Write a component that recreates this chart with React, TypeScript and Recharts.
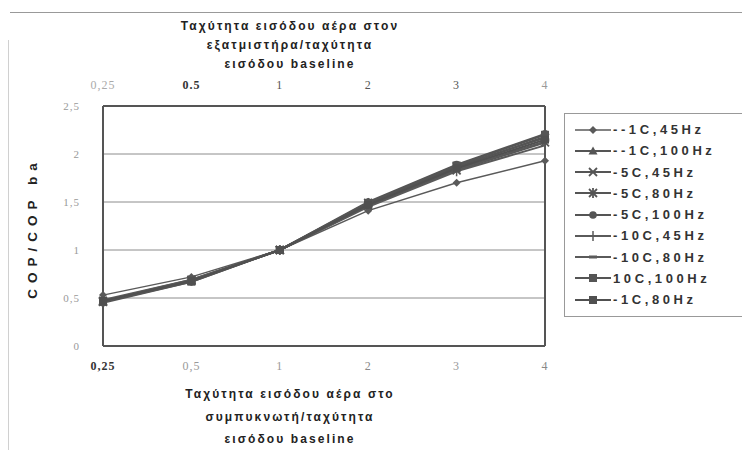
import { LineChart, Line, XAxis, YAxis, CartesianGrid, Legend } from 'recharts'

// x categories (air inlet velocity / baseline)
const ratios = ['0,25', '0,5', '1', '2', '3', '4']
const topRatios = ['0,25', '0.5', '1', '2', '3', '4']
const yTicks = [0, 0.5, 1, 1.5, 2, 2.5]

// COP / COP baseline
const m1c45 = [0.53, 0.72, 1, 1.41, 1.7, 1.93]
const m1c100 = [0.46, 0.68, 1, 1.48, 1.86, 2.18]
const m5c45 = [0.47, 0.69, 1, 1.46, 1.83, 2.12]
const m5c80 = [0.46, 0.68, 1, 1.49, 1.87, 2.17]
const m5c100 = [0.45, 0.67, 1, 1.5, 1.89, 2.21]
const m10c45 = [0.48, 0.69, 1, 1.45, 1.82, 2.09]
const m10c80 = [0.47, 0.68, 1, 1.47, 1.84, 2.13]
const p10c100 = [0.46, 0.67, 1, 1.49, 1.88, 2.2]
const m1c80 = [0.47, 0.68, 1, 1.47, 1.85, 2.15]

const seriesNames = ['--1C,45Hz', '--1C,100Hz', '-5C,45Hz', '-5C,80Hz', '-5C,100Hz', '-10C,45Hz', '-10C,80Hz', '10C,100Hz', '-1C,80Hz']
const seriesValues = [m1c45, m1c100, m5c45, m5c80, m5c100, m10c45, m10c80, p10c100, m1c80]

// styling per series (kept apart from the values)
const seriesStyle = [
  { shape: 'diamond', width: 1.5, color: '#5a5a5a' },
  { shape: 'triangle', width: 2, color: '#555' },
  { shape: 'cross', width: 2, color: '#555' },
  { shape: 'star', width: 2, color: '#555' },
  { shape: 'circle', width: 2, color: '#555' },
  { shape: 'plus', width: 2, color: '#5a5a5a' },
  { shape: 'dash', width: 2, color: '#5a5a5a' },
  { shape: 'square', width: 2, color: '#555' },
  { shape: 'square', width: 2, color: '#505050' },
]

const data = ratios.map((r, i) => {
  const row: Record<string, string | number> = { ratio: r }
  seriesNames.forEach((n, s) => { row['s' + s] = seriesValues[s][i] })
  return row
})

const serif = '"Liberation Serif", "DejaVu Serif", serif'
const sans = '"Liberation Sans", "DejaVu Sans", sans-serif'

function Marker({ shape, cx, cy, color }: { shape: string; cx: number; cy: number; color: string }) {
  switch (shape) {
    case 'diamond':
      return <polygon points={`${cx},${cy - 4} ${cx + 4},${cy} ${cx},${cy + 4} ${cx - 4},${cy}`} fill={color} />
    case 'triangle':
      return <polygon points={`${cx},${cy - 4.5} ${cx + 4.5},${cy + 3.5} ${cx - 4.5},${cy + 3.5}`} fill={color} />
    case 'cross':
      return (
        <g stroke={color} strokeWidth={1.8}>
          <line x1={cx - 4} y1={cy - 4} x2={cx + 4} y2={cy + 4} />
          <line x1={cx - 4} y1={cy + 4} x2={cx + 4} y2={cy - 4} />
        </g>
      )
    case 'star':
      return (
        <g stroke={color} strokeWidth={1.8}>
          <line x1={cx - 4} y1={cy - 4} x2={cx + 4} y2={cy + 4} />
          <line x1={cx - 4} y1={cy + 4} x2={cx + 4} y2={cy - 4} />
          <line x1={cx} y1={cy - 5} x2={cx} y2={cy + 5} />
        </g>
      )
    case 'circle':
      return <circle cx={cx} cy={cy} r={3.8} fill={color} />
    case 'plus':
      return <line x1={cx} y1={cy - 5} x2={cx} y2={cy + 5} stroke={color} strokeWidth={1.5} />
    case 'dash':
      return <line x1={cx - 4} y1={cy} x2={cx + 4} y2={cy} stroke={color} strokeWidth={3} />
    default:
      return <rect x={cx - 4} y={cy - 4} width={8} height={8} fill={color} />
  }
}

const bottomTone = ['#333', '#999', '#999', '#888', '#999', '#888']
const topTone = ['#aaa', '#333', '#555', '#555', '#555', '#999']

function BottomTick({ x, y, payload, index }: any) {
  return (
    <text x={x} y={y} dy={4} textAnchor="middle" fontFamily={serif} fontSize={12}
      fontWeight={index === 0 ? 700 : 400} fill={bottomTone[index]} letterSpacing={1}>
      {payload.value}
    </text>
  )
}

function TopTick({ x, y, index }: any) {
  return (
    <text x={x} y={y} dy={-1} textAnchor="middle" fontFamily={serif} fontSize={12}
      fontWeight={index === 1 ? 700 : 400} fill={topTone[index]} letterSpacing={1}>
      {topRatios[index]}
    </text>
  )
}

function YTick({ x, y, payload }: any) {
  return (
    <text x={x} y={y} dy={4} textAnchor="end" fontFamily={serif} fontSize={11} fill="#999" letterSpacing={1}>
      {String(payload.value).replace('.', ',')}
    </text>
  )
}

const titleStyle = { fontFamily: sans, fontSize: 12, fontWeight: 700, fill: '#222', letterSpacing: 2.1 }

function BottomTitle({ viewBox }: any) {
  const cx = viewBox.x + viewBox.width / 2 - 34
  return (
    <text textAnchor="middle" {...titleStyle}>
      <tspan x={cx} y={viewBox.y + 52}>Ταχύτητα εισόδου αέρα στο</tspan>
      <tspan x={cx} y={viewBox.y + 75}>συμπυκνωτή/ταχύτητα</tspan>
      <tspan x={cx} y={viewBox.y + 97}>εισόδου baseline</tspan>
    </text>
  )
}

function TopTitle({ viewBox }: any) {
  const cx = viewBox.x + viewBox.width / 2 - 34
  return (
    <text textAnchor="middle" {...titleStyle}>
      <tspan x={cx} y={viewBox.y - 46}>Ταχύτητα εισόδου αέρα στον</tspan>
      <tspan x={cx} y={viewBox.y - 27}>εξατμιστήρα/ταχύτητα</tspan>
      <tspan x={cx} y={viewBox.y - 8}>εισόδου baseline</tspan>
    </text>
  )
}

function YTitle({ viewBox }: any) {
  const x = viewBox.x - 26
  const y = viewBox.y + viewBox.height / 2 + 2
  return (
    <text x={x} y={y} transform={`rotate(-90 ${x} ${y})`} textAnchor="middle"
      fontFamily={sans} fontSize={13.5} fontWeight={700} fill="#222" letterSpacing={6}>
      COP/COP ba
    </text>
  )
}

function LegendBox({ payload }: any) {
  const items = [...(payload || [])].sort(
    (a: any, b: any) => seriesNames.indexOf(a.value) - seriesNames.indexOf(b.value),
  )
  return (
    <div style={{ border: '1px solid #999', borderRight: 'none', background: '#fff', width: 178, boxSizing: 'border-box', padding: '5px 0 6px 10px' }}>
      {items.map((p: any) => {
        const st = seriesStyle[seriesNames.indexOf(p.value)]
        return (
          <div key={p.value} style={{ display: 'flex', alignItems: 'center', height: 21.25 }}>
            <svg width={36} height={12}>
              <line x1={0} x2={36} y1={6} y2={6} stroke={st.color} strokeWidth={st.width} />
              <Marker shape={st.shape} cx={18} cy={6} color={st.color} />
            </svg>
            <span style={{ marginLeft: 2, fontFamily: sans, fontSize: 13, fontWeight: 700, color: '#333', letterSpacing: 3.6, whiteSpace: 'nowrap' }}>
              {p.value}
            </span>
          </div>
        )
      })}
    </div>
  )
}

export default function App() {
  return (
    <div style={{ position: 'fixed', left: 0, top: 0, width: 742, height: 450, background: '#fff' }}>
      <LineChart width={742} height={450} data={data} margin={{ top: 76, right: 18, bottom: 74, left: 63 }}>
        <CartesianGrid horizontal vertical={false} stroke="#8c8c8c" yAxisId="left" xAxisId="bottom" />
        <XAxis xAxisId="bottom" dataKey="ratio" orientation="bottom" height={30} tickLine={false}
          axisLine={{ stroke: '#555', strokeWidth: 2 }} tick={<BottomTick />} tickSize={6} tickMargin={14}
          padding={{ left: 0, right: 0 }} interval={0} label={{ content: <BottomTitle /> }} />
        <XAxis xAxisId="top" dataKey="ratio" orientation="top" height={30} tickLine={false}
          axisLine={{ stroke: '#555', strokeWidth: 2 }} tick={<TopTick />} tickSize={6} tickMargin={10}
          interval={0} label={{ content: <TopTitle /> }} />
        <YAxis yAxisId="left" domain={[0, 2.5]} ticks={yTicks} width={40} tickLine={false}
          axisLine={{ stroke: '#555', strokeWidth: 2 }} tick={<YTick />} tickSize={6} tickMargin={17}
          interval={0} label={{ content: <YTitle /> }} />
        <YAxis yAxisId="right" orientation="right" domain={[0, 2.5]} width={1} tick={false} tickLine={false}
          axisLine={{ stroke: '#555', strokeWidth: 2 }} />
        <Legend layout="vertical" align="right" verticalAlign="top" content={<LegendBox />}
          wrapperStyle={{ top: 113, right: 0, width: 178 }} />
        {seriesNames.map((name, s) => {
          const st = seriesStyle[s]
          return (
            <Line key={name} xAxisId="bottom" yAxisId="left" dataKey={'s' + s} name={name} type="linear"
              stroke={st.color} strokeWidth={st.width} isAnimationActive={false}
              dot={(props: any) => <Marker key={props.index} shape={st.shape} cx={props.cx} cy={props.cy} color={st.color} />}
              activeDot={false} />
          )
        })}
      </LineChart>
      <div style={{ position: 'absolute', zIndex: 10, left: 10, width: 732, top: 12, height: 1, background: '#999' }} />
      <div style={{ position: 'absolute', zIndex: 10, left: 8, top: 40, height: 410, width: 1, background: '#d0d0d0' }} />
    </div>
  )
}
